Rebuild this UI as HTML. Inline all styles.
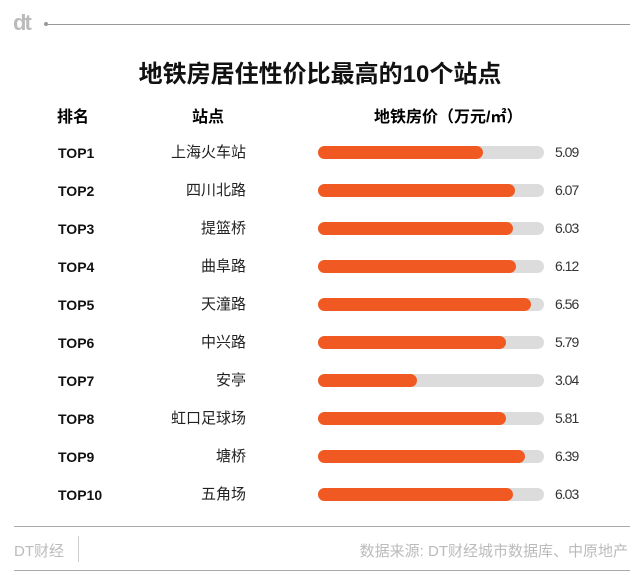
<!DOCTYPE html>
<html><head><meta charset="utf-8"><style>
body{margin:0;width:640px;height:575px;background:#fff;font-family:"Liberation Sans","Noto Sans CJK SC",sans-serif;position:relative;overflow:hidden}
.a{position:absolute;white-space:nowrap}
.rk{left:58px;font-weight:bold;font-size:14px;color:#111}
.st{left:115px;width:131px;text-align:right;font-size:15px;color:#222}
.tr{left:318px;width:226px;height:13px;border-radius:7px;background:#dcdcdc}
.br{left:0;top:0;height:13px;border-radius:7px;background:#f05a22;position:absolute}
.v{left:555px;font-size:14px;color:#333;letter-spacing:-1px}
</style></head><body>
<div class="a" style="left:13px;top:10px;font-size:22px;font-weight:bold;color:#bbb;letter-spacing:-2px">dt</div>
<div class="a" style="left:44px;top:24px;width:586px;height:1px;background:#999"></div>
<div class="a" style="left:44px;top:22px;width:4px;height:4px;border-radius:2px;background:#999"></div>
<div class="a" style="left:0;width:640px;text-align:center;top:54px;font-size:24px;font-weight:bold;color:#111">地铁房居住性价比最高的10个站点</div>
<div class="a" style="left:57px;top:103px;font-size:16px;font-weight:bold">排名</div>
<div class="a" style="left:192px;top:103px;font-size:16px;font-weight:bold">站点</div>
<div class="a" style="left:374px;top:103px;font-size:16px;font-weight:bold">地铁房价（万元/㎡）</div>
<div id="rows"></div>
<div class="a" style="left:14px;top:526px;width:616px;height:1px;background:#aaa"></div>
<div class="a" style="left:14px;top:570px;width:616px;height:1px;background:#aaa"></div>
<div class="a" style="left:14px;top:540px;font-size:15px;color:#bbb">DT财经</div>
<div class="a" style="left:78px;top:536px;width:1px;height:26px;background:#ccc"></div>
<div class="a" style="right:12px;top:540px;font-size:15px;color:#bbb">数据来源: DT财经城市数据库、中原地产</div>
<script>
var d=[["上海火车站",5.09],["四川北路",6.07],["提篮桥",6.03],["曲阜路",6.12],["天潼路",6.56],["中兴路",5.79],["安亭",3.04],["虹口足球场",5.81],["塘桥",6.39],["五角场",6.03]];
var h="";d.forEach(function(r,i){var y=152+i*38;
h+='<div class="a rk" style="top:'+(y-7)+'px">TOP'+(i+1)+'</div><div class="a st" style="top:'+(y-11)+'px">'+r[0]+'</div><div class="a tr" style="top:'+(y-6)+'px"><div class="br" style="width:'+(r[1]*32.4).toFixed(1)+'px"></div></div><div class="a v" style="top:'+(y-8)+'px">'+r[1].toFixed(2)+'</div>';});
document.getElementById("rows").innerHTML=h;
</script>
</body></html>
